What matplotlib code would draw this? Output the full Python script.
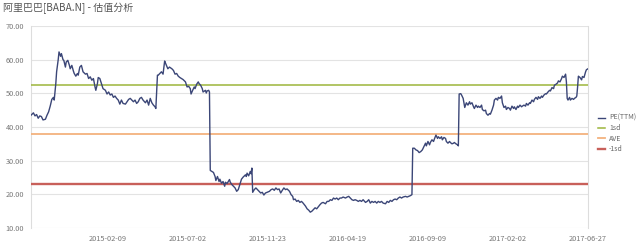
import matplotlib
matplotlib.use("Agg")
import matplotlib.pyplot as plt

plt.rcParams["font.family"] = ["Noto Sans CJK SC", "DejaVu Sans"]

TITLE = "阿里巴巴[BABA.N] - 估值分析"

# trading-day index since IPO (2014-09-19) and PE(TTM)
day_idx = [
    0, 3, 5, 7, 9, 11, 13, 15, 18, 20, 22, 24, 26, 28, 29, 31, 32, 34, 35, 37,
    38, 40, 41, 43, 44, 46, 48, 49, 51, 53, 54, 56, 58, 59, 61, 63, 65, 68, 70, 72,
    74, 76, 78, 80, 81, 83, 84, 86, 88, 90, 93, 95, 97, 99, 101, 103, 105, 107, 109, 111,
    113, 115, 118, 120, 122, 124, 126, 128, 130, 132, 134, 136, 138, 140, 143, 145, 147, 149, 151, 153,
    155, 156, 158, 159, 161, 163, 165, 167, 168, 171, 173, 176,
    178, 180, 182, 184, 186, 188, 190, 193, 195, 197, 199, 200, 202, 204, 205, 207, 209, 210, 212, 214,
    215, 218, 219, 220, 222, 223, 224, 226, 228, 230, 231, 233, 235, 236, 238, 240, 242, 243, 245, 248,
    249, 251, 253, 255, 257, 259, 261, 263, 265, 268, 269, 270, 272, 274, 275, 276, 277, 279, 281, 283,
    285, 287, 289, 291, 293, 295, 298, 300, 302, 304, 306, 308, 310, 312, 314, 316, 318, 320, 323, 325,
    327, 328, 330, 332, 334, 336, 338, 340, 343, 345, 347, 349, 351, 353, 355, 357, 359,
    361, 363, 365, 368, 370, 372, 374, 376, 378, 380, 382, 384, 386, 388, 390, 393, 395, 397, 399, 401,
    403, 405, 407, 409, 411, 413, 415, 418, 420, 422, 424, 426, 428, 430, 432, 434, 436, 438, 440, 443,
    445, 447, 449, 451, 453, 455, 457, 459, 461, 463, 465, 468, 470, 472, 474, 476, 477, 479, 481, 483,
    485, 487, 489, 491, 493, 494, 496, 498, 499, 501, 503, 504, 506, 508, 509, 511, 513, 514, 516, 518,
    519, 521, 523, 524, 526, 528, 529, 531, 533, 534, 535, 537, 538, 540,
    542, 544, 546, 548, 549, 551, 553, 554, 556, 558, 559, 561, 563, 564, 566, 568, 569, 571, 573, 574,
    576, 578, 579, 581, 583, 584, 586, 588, 589, 591, 593, 594, 596, 598, 599, 601, 603, 604, 606, 608,
    609, 611, 613, 614, 616, 618, 619, 621, 623, 624, 626, 628, 629, 631, 633, 634, 636, 638, 639, 641,
    643, 644, 646, 648, 649, 651, 653, 654, 656, 658, 659, 661, 663, 664, 666, 668, 669, 670, 671, 673,
    674, 676, 678, 679, 681, 682, 683, 684, 686, 688, 689, 691, 693, 694, 696,
]
pe_ttm = [
    43.5, 44.2, 43.3, 43.7, 42.6, 43.3, 43.1, 42.1, 42.3, 43.5, 44.5, 46.2, 48.2, 48.8, 48.0, 52.9, 56.4, 60.0, 62.3, 61.0,
    61.8, 60.0, 59.8, 57.8, 59.3, 59.8, 58.3, 57.3, 58.3, 56.6, 55.9, 55.1, 55.9, 55.4, 57.8, 58.3, 56.4, 55.7, 55.9, 54.4,
    54.9, 53.9, 54.4, 51.9, 50.9, 52.9, 54.7, 54.4, 52.9, 51.4, 50.9, 49.8, 50.4, 49.5, 49.8, 48.8, 49.2, 48.5, 48.0, 46.8,
    48.0, 47.0, 46.8, 47.5, 48.2, 48.5, 48.0, 47.5, 48.0, 47.0, 47.5, 48.5, 48.8, 48.0, 47.2, 48.0, 46.5, 48.5, 47.2, 46.5,
    46.0, 45.5, 55.4, 55.4, 55.9, 56.4, 55.7, 59.6, 59.0, 57.3, 57.8, 57.3,
    56.8, 55.7, 55.9, 55.1, 54.7, 54.4, 54.1, 53.4, 51.9, 52.1, 51.4, 49.8, 50.9, 51.9, 51.4, 52.7, 53.4, 52.9, 52.4, 51.4,
    50.4, 50.9, 50.1, 50.7, 50.9, 50.4, 27.1, 26.8, 26.5, 25.3, 24.1, 25.3, 23.8, 24.5, 23.3, 23.8, 22.4, 23.6, 23.2, 24.4,
    23.6, 22.9, 22.4, 21.9, 20.9, 21.4, 22.9, 24.5, 25.1, 25.8, 25.3, 26.3, 25.5, 26.8, 26.1, 27.8, 20.6, 21.4, 21.9, 21.4,
    20.9, 20.4, 20.6, 19.8, 20.4, 20.6, 20.9, 21.4, 21.6, 21.2, 21.9, 21.4, 21.6, 20.4, 21.2, 21.9, 21.4, 21.6, 20.9, 19.9,
    19.4, 18.4, 18.6, 17.9, 18.2, 17.6, 17.9, 17.4, 16.5, 15.7, 15.3, 14.7, 15.0, 15.5, 16.0, 15.7, 16.3,
    16.9, 17.4, 17.6, 17.2, 17.9, 17.9, 18.4, 18.2, 18.9, 18.6, 18.9, 18.4, 18.9, 18.9, 19.2, 18.9, 19.2, 19.4, 18.9, 18.4,
    18.2, 18.4, 18.2, 17.9, 18.2, 17.9, 18.4, 17.6, 17.9, 18.4, 17.4, 17.9, 17.6, 17.9, 17.4, 17.9, 17.6, 17.9, 17.4, 17.2,
    17.9, 17.6, 18.2, 17.9, 18.4, 18.6, 18.4, 18.9, 19.2, 18.9, 19.2, 19.4, 19.2, 19.4, 19.6, 19.9, 33.7, 33.7, 33.2, 33.0,
    32.4, 32.7, 33.2, 34.2, 35.2, 34.4, 35.7, 34.7, 35.4, 36.2, 35.7, 36.4, 37.6, 36.6, 37.1, 36.6, 37.1, 36.2, 36.9, 36.6,
    35.7, 35.2, 35.7, 35.4, 35.0, 35.2, 35.4, 35.0, 34.7, 34.4, 49.8, 49.9, 49.5, 48.5,
    45.8, 47.2, 46.5, 47.5, 46.8, 47.2, 46.0, 45.5, 46.5, 45.8, 46.2, 45.8, 46.5, 45.2, 44.8, 45.0, 44.0, 43.5, 44.0, 43.8,
    45.0, 46.5, 48.0, 48.5, 48.0, 48.8, 48.5, 49.2, 47.2, 45.8, 46.2, 45.2, 45.8, 45.5, 45.0, 46.2, 45.5, 46.0, 45.2, 46.2,
    45.8, 46.5, 46.0, 46.2, 46.5, 46.2, 47.0, 46.5, 47.2, 47.0, 48.0, 47.5, 48.2, 48.8, 48.2, 49.0, 48.5, 49.2, 48.8, 49.5,
    49.9, 49.8, 50.4, 50.9, 50.7, 51.7, 51.4, 52.4, 52.7, 53.1, 53.7, 53.4, 54.4, 55.1, 54.7, 55.7, 53.4, 48.5, 48.0, 48.8,
    48.0, 48.5, 48.2, 48.5, 48.8, 49.2, 51.9, 55.1, 54.7, 54.0, 55.0, 54.7, 56.4, 57.0, 57.3,
]

sd_plus = 52.6
ave = 37.9
sd_minus = 23.2

tick_idx = [96, 196, 296, 396, 496, 596, 696]
tick_labels = ["2015-02-09", "2015-07-02", "2015-11-23", "2016-04-19",
               "2016-09-09", "2017-02-02", "2017-06-27"]
y_ticks = [10, 20, 30, 40, 50, 60, 70]


def main() -> None:
    fig = plt.figure(figsize=(6.4, 2.47), dpi=100)
    ax = fig.add_axes([31 / 640, 1 - 228 / 247, (588 - 31) / 640, (228 - 26) / 247])

    ax.plot(day_idx, pe_ttm, color="#3b4677", linewidth=1.0, label="PE(TTM)", zorder=4)
    ax.axhline(sd_plus, color="#9cb53b", linewidth=1.1, label="1sd", zorder=3)
    ax.axhline(ave, color="#f3b27e", linewidth=1.3, label="AVE", zorder=3)
    ax.axhline(sd_minus, color="#c8605a", linewidth=1.7, label="-1sd", zorder=3)

    ax.set_xlim(0, 696)
    ax.set_ylim(10, 70)
    ax.set_yticks(y_ticks)
    ax.set_yticklabels([f"{v:.2f}" for v in y_ticks])
    ax.set_xticks(tick_idx)
    ax.set_xticklabels(tick_labels)
    ax.tick_params(length=0, labelsize=5.3, labelcolor="#777777", pad=5)
    ax.grid(axis="y", color="#e3e3e3", linewidth=0.8)
    ax.set_axisbelow(True)
    for side in ("top", "bottom"):
        ax.spines[side].set_visible(False)
    for side in ("left", "right"):
        ax.spines[side].set_color("#dddddd")
        ax.spines[side].set_linewidth(0.8)

    fig.text(3 / 640, 1 - 8 / 247, TITLE, fontsize=7.2, color="#555555", va="center", ha="left")

    leg = fig.legend(loc="upper left", bbox_to_anchor=(598 / 640, 1 - 114 / 247),
                     frameon=False, fontsize=5, handlelength=1.0, handletextpad=0.6,
                     labelspacing=0.35, borderpad=0, borderaxespad=0)
    for t in leg.get_texts():
        t.set_color("#666666")

    fig.savefig("out.png", dpi=100)


if __name__ == "__main__":
    main()
